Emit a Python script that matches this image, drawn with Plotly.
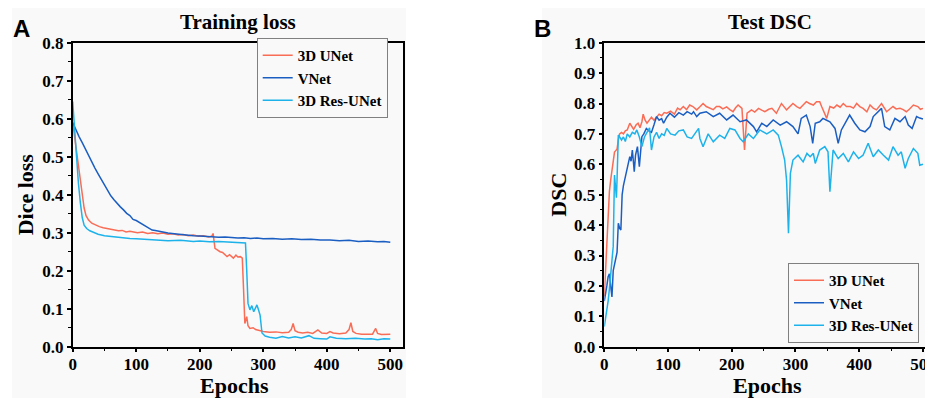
import plotly.graph_objects as go

# ---------------- Panel A: Training loss ----------------
a_unet_ep = [0, 3, 6, 9, 12, 15, 18, 21, 25, 30, 36, 42, 48, 55, 60, 66, 72, 78, 84, 90, 96, 102, 110,
             118, 126, 134, 142, 150, 158, 166, 174, 182, 190, 198, 206, 214, 219, 221, 224, 228, 232,
             236, 240, 243, 247, 250, 253, 257, 260, 264, 267, 269, 271, 274, 276, 279, 284, 288, 292,
             296, 300, 310, 320, 330, 340, 344, 347, 350, 355, 362, 370, 378, 386, 392, 400, 405, 410,
             420, 430, 435, 438, 441, 446, 455, 465, 472, 477, 480, 486, 493, 500]
a_unet_val = [0.59, 0.55, 0.51, 0.47, 0.435, 0.40, 0.365, 0.345, 0.333, 0.325, 0.32, 0.316, 0.313,
              0.311, 0.309, 0.307, 0.305, 0.306, 0.302, 0.304, 0.301, 0.300, 0.302, 0.298, 0.300,
              0.297, 0.299, 0.296, 0.297, 0.294, 0.295, 0.292, 0.294, 0.291, 0.292, 0.289, 0.291,
              0.298, 0.259, 0.254, 0.250, 0.248, 0.243, 0.237, 0.242, 0.238, 0.233, 0.241, 0.236,
              0.237, 0.233, 0.15, 0.061, 0.079, 0.055, 0.048, 0.05, 0.045, 0.043, 0.041, 0.040,
              0.038, 0.039, 0.037, 0.038, 0.045, 0.061, 0.042, 0.038, 0.036, 0.038, 0.035, 0.044,
              0.036, 0.035, 0.040, 0.036, 0.034, 0.036, 0.045, 0.063, 0.040, 0.035, 0.033, 0.034,
              0.033, 0.048, 0.035, 0.032, 0.033, 0.033]

a_vnet_ep = [0, 5, 10, 15, 20, 25, 30, 35, 40, 45, 50, 55, 60, 65, 70, 75, 80, 85, 90, 95, 100, 105,
             110, 115, 120, 125, 130, 140, 150, 160, 170, 180, 190, 200, 210, 220, 230, 240, 250, 260,
             270, 280, 290, 300, 315, 330, 345, 360, 375, 390, 405, 420, 435, 450, 465, 480, 490, 500]
a_vnet_val = [0.59, 0.57, 0.553, 0.537, 0.52, 0.50, 0.485, 0.47, 0.455, 0.44, 0.425, 0.41, 0.397,
              0.387, 0.376, 0.368, 0.36, 0.351, 0.345, 0.335, 0.332, 0.327, 0.321, 0.317, 0.313,
              0.307, 0.306, 0.302, 0.299, 0.297, 0.295, 0.293, 0.292, 0.291, 0.290, 0.289, 0.288,
              0.289, 0.287, 0.286, 0.287, 0.285, 0.286, 0.284, 0.285, 0.283, 0.284, 0.282, 0.283,
              0.281, 0.281, 0.279, 0.280, 0.277, 0.278, 0.276, 0.277, 0.275]

a_res_ep = [0, 3, 6, 9, 12, 15, 18, 22, 27, 33, 40, 50, 60, 70, 80, 90, 100, 115, 130, 150, 170, 190,
            200, 215, 230, 250, 262, 272, 274, 276, 279, 282, 285, 290, 292, 295, 298, 303, 310, 320,
            330, 340, 350, 360, 372, 380, 390, 400, 405, 415, 430, 445, 460, 470, 480, 490, 500]
a_res_val = [0.645, 0.57, 0.50, 0.43, 0.38, 0.34, 0.32, 0.311, 0.305, 0.30, 0.296, 0.292, 0.29, 0.288,
             0.287, 0.285, 0.284, 0.282, 0.281, 0.279, 0.280, 0.277, 0.278, 0.276, 0.277, 0.275,
             0.274, 0.273, 0.20, 0.114, 0.097, 0.108, 0.092, 0.11, 0.10, 0.083, 0.036, 0.028, 0.025,
             0.022, 0.027, 0.023, 0.026, 0.023, 0.029, 0.022, 0.021, 0.020, 0.026, 0.022, 0.021,
             0.022, 0.020, 0.021, 0.018, 0.021, 0.020]

# ---------------- Panel B: Test DSC ----------------
b_unet_ep = [0, 2, 4, 6, 8, 10, 12, 14, 16, 18, 20, 22, 24, 27, 30, 33, 36, 40, 43, 46, 50, 53, 56,
             59, 61, 64, 67, 70, 74, 78, 82, 86, 90, 94, 98, 104, 110, 115, 119, 124, 129, 134, 139,
             145, 150, 155, 160, 165, 171, 176, 181, 186, 192, 197, 202, 206, 210, 216, 220, 224,
             231, 236, 242, 247, 252, 258, 263, 270, 278, 286, 291, 296, 302, 307, 312, 317, 322,
             328, 333, 338, 341, 346, 349, 354, 360, 365, 370, 375, 380, 386, 391, 396, 401, 406,
             412, 417, 422, 427, 435, 443, 448, 453, 458, 464, 469, 474, 479, 485, 492, 496, 500]
b_unet_val = [0.165, 0.25, 0.36, 0.45, 0.51, 0.548, 0.58, 0.625, 0.64, 0.645, 0.65, 0.68, 0.70, 0.705,
              0.70, 0.71, 0.713, 0.735, 0.724, 0.715, 0.73, 0.735, 0.72, 0.74, 0.765, 0.745, 0.735,
              0.742, 0.755, 0.745, 0.757, 0.765, 0.76, 0.77, 0.768, 0.775, 0.765, 0.785, 0.779, 0.79,
              0.78, 0.795, 0.79, 0.779, 0.789, 0.80, 0.79, 0.785, 0.78, 0.79, 0.79, 0.782, 0.789,
              0.78, 0.773, 0.786, 0.795, 0.784, 0.647, 0.768, 0.779, 0.772, 0.784, 0.778, 0.773,
              0.781, 0.784, 0.768, 0.80, 0.779, 0.79, 0.80, 0.79, 0.784, 0.795, 0.806, 0.80, 0.795,
              0.806, 0.806, 0.79, 0.762, 0.751, 0.79, 0.785, 0.795, 0.788, 0.80, 0.79, 0.79, 0.785,
              0.80, 0.79, 0.784, 0.773, 0.795, 0.785, 0.779, 0.80, 0.773, 0.782, 0.79, 0.782, 0.784,
              0.78, 0.773, 0.782, 0.795, 0.79, 0.781, 0.784]

b_vnet_ep = [0, 2, 4, 6, 8, 10, 12, 14, 16, 18, 20, 22, 24, 26, 28, 30, 33, 36, 38, 40, 42, 44, 46,
             47, 49, 52, 55, 57, 59, 62, 66, 70, 74, 78, 82, 86, 90, 93, 98, 103, 110, 117, 124, 130,
             137, 140, 145, 150, 160, 171, 181, 192, 202, 213, 223, 234, 239, 247, 255, 265, 276,
             286, 296, 304, 309, 317, 323, 327, 331, 338, 343, 349, 354, 362, 367, 372, 380, 385,
             393, 401, 409, 417, 422, 427, 435, 440, 448, 456, 464, 472, 477, 483, 490, 495, 500]
b_vnet_val = [0.15, 0.17, 0.20, 0.23, 0.24, 0.20, 0.164, 0.25, 0.274, 0.29, 0.31, 0.406, 0.39, 0.384,
              0.50, 0.53, 0.56, 0.58, 0.60, 0.625, 0.61, 0.647, 0.60, 0.576, 0.63, 0.658, 0.592, 0.65,
              0.691, 0.70, 0.718, 0.71, 0.705, 0.73, 0.757, 0.745, 0.75, 0.735, 0.755, 0.768, 0.755,
              0.77, 0.762, 0.773, 0.765, 0.773, 0.757, 0.768, 0.773, 0.757, 0.768, 0.746, 0.762,
              0.74, 0.746, 0.724, 0.707, 0.735, 0.724, 0.746, 0.729, 0.74, 0.724, 0.70, 0.751, 0.762,
              0.724, 0.669, 0.735, 0.74, 0.751, 0.745, 0.74, 0.718, 0.669, 0.713, 0.746, 0.762, 0.735,
              0.713, 0.707, 0.724, 0.757, 0.768, 0.784, 0.724, 0.713, 0.751, 0.74, 0.757, 0.729,
              0.718, 0.757, 0.752, 0.749]

b_res_ep = [0, 2, 4, 6, 8, 10, 12, 14, 15, 16, 17, 18, 19, 20, 22, 24, 27, 30, 33, 36, 40, 44, 48,
            51, 55, 59, 63, 67, 71, 74, 78, 82, 86, 90, 94, 98, 104, 111, 117, 124, 130, 137, 143,
            148, 150, 155, 163, 171, 181, 189, 197, 205, 213, 218, 226, 234, 244, 255, 265, 273,
            278, 283, 286, 289, 292, 296, 304, 312, 318, 323, 328, 331, 338, 346, 351, 354, 359,
            367, 375, 383, 391, 399, 406, 414, 422, 430, 438, 446, 453, 461, 466, 472, 477, 485,
            492, 495, 500]
b_res_val = [0.066, 0.09, 0.12, 0.15, 0.19, 0.23, 0.28, 0.33, 0.45, 0.565, 0.54, 0.50, 0.49, 0.55,
             0.696, 0.69, 0.68, 0.69, 0.675, 0.70, 0.69, 0.705, 0.70, 0.713, 0.69, 0.658, 0.69, 0.705,
             0.72, 0.647, 0.69, 0.705, 0.685, 0.70, 0.695, 0.718, 0.70, 0.696, 0.71, 0.713, 0.69,
             0.685, 0.705, 0.718, 0.685, 0.658, 0.70, 0.674, 0.696, 0.685, 0.718, 0.713, 0.685,
             0.674, 0.70, 0.685, 0.713, 0.70, 0.713, 0.696, 0.658, 0.614, 0.548, 0.373, 0.57, 0.614,
             0.63, 0.608, 0.636, 0.625, 0.636, 0.603, 0.647, 0.658, 0.641, 0.51, 0.647, 0.619, 0.636,
             0.608, 0.641, 0.619, 0.63, 0.669, 0.625, 0.647, 0.63, 0.614, 0.658, 0.63, 0.641, 0.587,
             0.619, 0.652, 0.636, 0.597, 0.60]

series_names = ["3D UNet", "VNet", "3D Res-UNet"]
series_colors = ["#F96C55", "#1B5EC2", "#1DB3EA"]

a_series = [(a_unet_ep, a_unet_val), (a_vnet_ep, a_vnet_val), (a_res_ep, a_res_val)]
b_series = [(b_unet_ep, b_unet_val), (b_vnet_ep, b_vnet_val), (b_res_ep, b_res_val)]

W, H = 933, 398
OFF = 8  # page body margin of the html page
BG = "#f9f9f9"
SERIF = "Liberation Serif"


def px(p):
    """window x pixel -> paper fraction"""
    return (p - OFF) / W


def py(p):
    """window y pixel (from top) -> paper fraction"""
    return (H - (p - OFF)) / H


fig = go.Figure()
for (ep, val), name, col in zip(a_series, series_names, series_colors):
    fig.add_trace(go.Scatter(x=ep, y=val, mode="lines", name=name,
                             line=dict(color=col, width=1.5), xaxis="x", yaxis="y",
                             legend="legend"))
for (ep, val), name, col in zip(b_series, series_names, series_colors):
    fig.add_trace(go.Scatter(x=ep, y=val, mode="lines", name=name,
                             line=dict(color=col, width=1.5), xaxis="x2", yaxis="y2",
                             legend="legend2"))

tickfont = dict(family=SERIF, size=17, color="black", weight="bold")
titlefont = dict(family=SERIF, size=22, color="black", weight="bold")


def xax(domain, anchor, rng):
    return dict(domain=domain, anchor=anchor, range=rng, tick0=0, dtick=100,
                ticks="outside", ticklen=4, tickwidth=1.5, tickcolor="black",
                showline=True, linewidth=1.5, linecolor="black", mirror=True,
                showgrid=False, zeroline=False, tickfont=tickfont, automargin=False,
                ticklabelstandoff=-3,
                minor=dict(ticks="outside", ticklen=3, dtick=50, tickwidth=1, tickcolor="black"))


def yax(domain, anchor, rng, title, standoff):
    return dict(domain=domain, anchor=anchor, range=rng, tick0=0, dtick=0.1, tickformat=".1f",
                ticks="outside", ticklen=4, tickwidth=1.5, tickcolor="black",
                showline=True, linewidth=1.5, linecolor="black", mirror=True,
                showgrid=False, zeroline=False, tickfont=tickfont, automargin=False,
                minor=dict(ticks="outside", ticklen=3, dtick=0.05, tickwidth=1, tickcolor="black"),
                title=dict(text=title, font=titlefont, standoff=standoff))


ydom = [py(346.7), py(42.7)]
legfont = dict(family=SERIF, size=15, color="black", weight="bold")


def label(text, x, y, font):
    return dict(text=text, x=px(x), y=py(y), xref="paper", yref="paper", showarrow=False,
                xanchor="center", yanchor="middle", font=font)


fig.update_layout(
    width=W, height=H, margin=dict(l=0, r=0, t=0, b=0, autoexpand=False),
    paper_bgcolor="white", plot_bgcolor=BG,
    xaxis=xax([px(72.7), px(403)], "y", [0, 520]),
    yaxis=yax(ydom, "x", [0, 0.8], "Dice loss", 3),
    xaxis2=xax([px(604.3), px(935.7)], "y2", [0, 520]),
    yaxis2=yax(ydom, "x2", [0, 1.0], "DSC", 1),
    legend=dict(x=px(256.7), y=py(78), xanchor="left", yanchor="middle",
                bgcolor=BG, bordercolor="#808080", borderwidth=1, font=legfont,
                tracegroupgap=0),
    legend2=dict(x=px(788), y=py(303), xanchor="left", yanchor="middle",
                 bgcolor=BG, bordercolor="#808080", borderwidth=1, font=legfont,
                 tracegroupgap=0),
    shapes=[
        dict(type="rect", xref="paper", yref="paper", x0=px(12), x1=px(406), y0=0, y1=1,
             fillcolor=BG, line=dict(width=0), layer="below"),
        dict(type="rect", xref="paper", yref="paper", x0=px(542), x1=1, y0=0, y1=1,
             fillcolor=BG, line=dict(width=0), layer="below"),
    ],
    annotations=[
        label("Training loss", 238, 22, dict(family=SERIF, size=21, color="black", weight="bold")),
        label("Test DSC", 770, 22, dict(family=SERIF, size=21, color="black", weight="bold")),
        label("A", 21, 29, dict(family="Liberation Sans", size=24, color="black", weight="bold")),
        label("B", 542, 29, dict(family="Liberation Sans", size=24, color="black", weight="bold")),
        label("Epochs", 234, 385, titlefont),
        label("Epochs", 767, 385, titlefont),
    ],
)

fig.write_html("out.html")
